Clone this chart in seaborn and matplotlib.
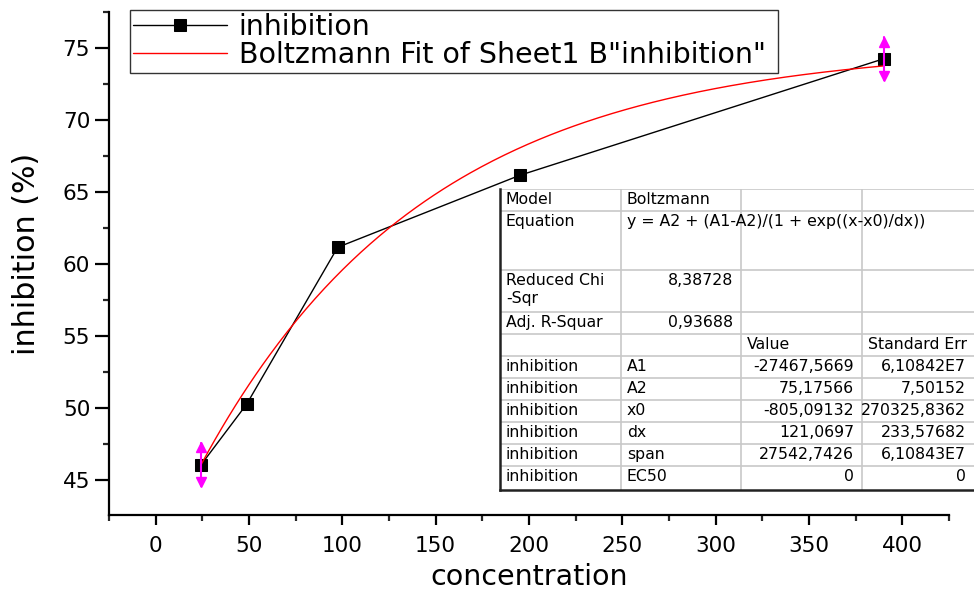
import numpy as np
import pandas as pd
import matplotlib
matplotlib.use("Agg")
import matplotlib.pyplot as plt
from matplotlib.ticker import MultipleLocator
import seaborn as sns

# ---- data ----
concentration = [24.375, 48.75, 97.5, 195.0, 390.0]
inhibition = [46.05, 50.25, 61.15, 66.15, 74.25]

# Boltzmann fit parameters (from the report table)
A1 = -27467.5669
A2 = 75.17566
x0 = -805.09132
dx = 121.0697

x_ticks = [0, 50, 100, 150, 200, 250, 300, 350, 400]
y_ticks = [45, 50, 55, 60, 65, 70, 75]

table_rows = [
    ["Model", "Boltzmann", "", ""],
    ["Equation", "y = A2 + (A1-A2)/(1 + exp((x-x0)/dx))", "", ""],
    ["Reduced Chi\n-Sqr", "8,38728", "", ""],
    ["Adj. R-Squar", "0,93688", "", ""],
    ["", "", "Value", "Standard Err"],
    ["inhibition", "A1", "-27467,5669", "6,10842E7"],
    ["inhibition", "A2", "75,17566", "7,50152"],
    ["inhibition", "x0", "-805,09132", "270325,8362"],
    ["inhibition", "dx", "121,0697", "233,57682"],
    ["inhibition", "span", "27542,7426", "6,10843E7"],
    ["inhibition", "EC50", "0", "0"],
]

sns.set_style("ticks")
plt.rcParams["font.family"] = ["DejaVu Sans"]
plt.rcParams["text.color"] = "black"
plt.rcParams["axes.labelcolor"] = "black"

W, H = 974, 594
fig = plt.figure(figsize=(W / 100, H / 100), dpi=100)
ax = fig.add_axes([109 / W, 79 / H, (949 - 109) / W, (515 - 12) / H])

df = pd.DataFrame({"concentration": concentration, "inhibition": inhibition})
xfit = np.linspace(concentration[0], concentration[-1], 300)
yfit = A2 + (A1 - A2) / (1 + np.exp((xfit - x0) / dx))
dfit = pd.DataFrame({"x": xfit, "y": yfit})

sns.lineplot(data=df, x="concentration", y="inhibition", ax=ax, color="black",
             lw=1.0, marker="s", markersize=9, markeredgecolor="black",
             label="inhibition", zorder=3)
sns.lineplot(data=dfit, x="x", y="y", ax=ax, color="red", lw=1.0,
             label='Boltzmann Fit of Sheet1 B"inhibition"', zorder=4)

# magenta range markers at the first and last data point
for xi, yi in [(concentration[0], inhibition[0]), (concentration[-1], inhibition[-1])]:
    ax.plot([xi, xi], [yi - 1.5, yi + 1.5], color="magenta", lw=1.5, zorder=5)
    ax.plot([xi], [yi + 1.2], marker="^", color="magenta", markersize=7, zorder=5)
    ax.plot([xi], [yi - 1.2], marker="v", color="magenta", markersize=7, zorder=5)

ax.set_xlim(-25, 425)
ax.set_ylim(42.55, 77.5)
ax.set_xticks(x_ticks)
ax.set_yticks(y_ticks)
ax.xaxis.set_minor_locator(MultipleLocator(25))
ax.yaxis.set_minor_locator(MultipleLocator(2.5))
for s in ["top", "right"]:
    ax.spines[s].set_visible(False)
for s in ["left", "bottom"]:
    ax.spines[s].set_linewidth(1.6)
    ax.spines[s].set_color("black")
ax.tick_params(which="major", direction="out", length=7, width=1.6, labelsize=15.5, colors="black")
ax.tick_params(which="minor", direction="out", length=4, width=1.6)
ax.tick_params(axis="y", which="major", length=10)
ax.tick_params(axis="x", pad=8)
ax.set_xlabel("concentration", fontsize=20.5, labelpad=5, color="black")
ax.set_ylabel("inhibition (%)", fontsize=21.7, color="black")
ax.yaxis.set_label_coords(-0.081, 0.519)

leg = ax.legend(loc="upper left", bbox_to_anchor=(130 / W, 1 - 75 / H, 648 / W, 65 / H),
                bbox_transform=fig.transFigure, mode="expand", borderaxespad=0,
                fontsize=20.5, frameon=True, fancybox=False, edgecolor="black",
                handlelength=3.3, handletextpad=0.4, borderpad=0.12, labelspacing=0.0,
                labelcolor="black")
leg.get_frame().set_linewidth(1.0)

# ---- fit report table ----
tx0, tx1, ty0, ty1 = 500, 974, 189, 490
tab = fig.add_axes([tx0 / W, 1 - ty1 / H, (tx1 - tx0) / W, (ty1 - ty0) / H])
tab.set_xlim(tx0, tx1)
tab.set_ylim(ty1, ty0)
tab.set_xticks([])
tab.set_yticks([])
tab.set_facecolor("white")
for s in ["top", "right"]:
    tab.spines[s].set_visible(False)
for s in ["left", "bottom"]:
    tab.spines[s].set_linewidth(1.8)
    tab.spines[s].set_color("#222222")

col_edges = [500, 621, 741, 862, 974]
row_edges = [189, 211, 270, 311.5, 334, 356, 378, 400, 422, 444, 466, 490]
grid = "#c8c8c8"
for xe in col_edges[1:-1]:
    tab.plot([xe, xe], [ty0, ty1], color=grid, lw=1.2)
for ye in row_edges[:-1]:
    tab.plot([tx0, tx1], [ye, ye], color=grid, lw=1.2)

fs = 11.3
for r, row in enumerate(table_rows):
    top = row_edges[r]
    yc = top + 10.5
    for c, txt in enumerate(row):
        if not txt:
            continue
        numeric = c >= 1 and (txt[0].isdigit() or txt[0] == "-") and r >= 2
        if numeric:
            tab.text(col_edges[c + 1] - 8, yc, txt, ha="right", va="center",
                     fontsize=fs, color="black")
        elif "\n" in txt:
            for k, part in enumerate(txt.split("\n")):
                tab.text(col_edges[c] + 6, yc + k * 18, part, ha="left",
                         va="center", fontsize=fs, color="black")
        else:
            tab.text(col_edges[c] + 6, yc, txt, ha="left", va="center",
                     fontsize=fs, color="black")

fig.savefig("out.png", dpi=100)
